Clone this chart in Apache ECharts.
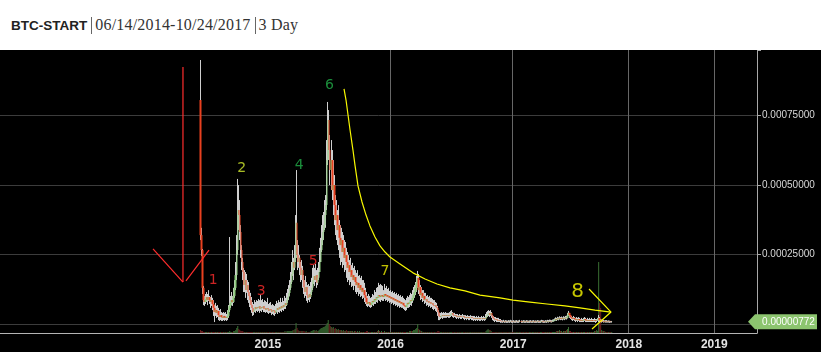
<!DOCTYPE html>
<html>
<head>
<meta charset="utf-8">
<script src="https://cdn.jsdelivr.net/npm/echarts@6/dist/echarts.min.js"></script>
<style>
  html, body { margin: 0; padding: 0; background: #fff; }
  #head { position: absolute; left: 11px; top: 15px; height: 20px; line-height: 20px; white-space: nowrap; color: #222; }
  #head b { font: bold 13.5px "Liberation Sans", Arial, sans-serif; }
  #head .serif { font: 16px "Liberation Serif", "DejaVu Serif", serif; color: #333; letter-spacing: 0.2px; }
  #head .sep { display: inline-block; width: 1px; height: 17px; background: #666; vertical-align: -4px; margin: 0 3px 0 4px; }
  #chart { position: absolute; left: 0; top: 50px; width: 821px; height: 302px; }
</style>
</head>
<body>
<div id="head"><b>BTC-START</b><span class="sep"></span><span class="serif">06/14/2014-10/24/2017</span><span class="sep"></span><span class="serif">3 Day</span></div>
<div id="chart"></div>
<script>
// prices in µBTC (1 = 0.000001 BTC), one candle every 3 days from 06/14/2014
var firstDay = Date.UTC(2014, 5, 14);
var barDays = 3;
var padBefore = 199;      // empty bars left of the first candle
var padAfter = 144;       // empty future bars
var futureStepDays = 4.3;
var yearLabels = ['2015', '2016', '2017', '2018', '2019'];
var yTicks = [250, 500, 750];
var lastPrice = 7.72;
var open0 = 806;

var closes = [
  320,266,130,86,79,90,97,86,97,86,
  79,86,72,58,43,50,40,47,32,25,
  32,25,22,29,22,25,22,29,50,65,
  76,86,79,101,130,176,266,410,392,331,
  266,223,187,140,158,122,140,115,101,86,
  68,58,43,50,61,54,61,58,65,54,
  61,58,65,54,58,50,58,54,47,54,
  50,43,50,47,40,50,58,50,61,54,
  65,58,68,61,76,68,86,97,112,130,
  151,180,223,202,238,364,248,223,238,202,
  176,194,158,133,115,133,104,94,108,97,
  115,130,158,173,158,176,148,166,187,223,
  266,302,331,356,392,428,590,734,626,554,
  590,482,500,428,374,392,338,356,310,284,
  302,259,274,238,248,223,202,212,187,194,
  169,176,158,169,151,140,148,130,140,122,
  130,115,122,104,94,79,72,79,76,68,
  76,83,79,90,86,97,94,104,101,97,
  104,101,97,108,101,104,97,101,94,97,
  90,94,86,90,83,86,79,83,76,79,
  72,76,68,65,61,68,76,72,79,86,
  83,94,104,115,130,148,166,122,133,104,
  112,94,101,86,90,79,83,76,79,72,
  76,68,65,68,61,58,43,29,25,29,
  32,29,32,29,32,29,32,29,32,36,
  40,32,29,32,29,25,29,25,29,25,
  25,29,25,22,25,22,25,22,22,25,
  22,22,18,22,18,22,18,22,18,18,
  22,18,22,18,25,32,36,40,32,40,
  29,22,18,14,18,14,11,14,11,11,
  9,8,10,7,9,8,7,9,8,10,
  8,7,9,7,8,9,7,8,10,8,
  7,9,8,7,9,8,7,8,9,7,
  8,9,7,8,7,9,8,7,8,10,
  9,8,7,9,8,10,9,11,10,9,
  11,12,14,18,16,20,18,22,19,21,
  18,22,20,23,22,29,40,32,25,22,
  18,22,18,14,18,14,18,14,11,14,
  11,14,18,14,11,14,11,14,11,14,
  11,11,14,11,11,14,22,14,11,11,
  9,11,8,10,9,8,9,8,7,7.72
];

var highs = [
  950,346,270,137,101,108,115,108,122,101,
  97,104,94,86,68,76,65,68,58,50,
  54,43,40,43,40,43,36,50,68,313,
  101,115,101,130,158,223,320,522,500,446,
  356,284,238,202,194,187,180,158,151,122,
  112,97,79,72,86,79,86,83,90,86,
  104,86,90,79,86,83,79,94,72,76,
  79,68,72,68,65,72,83,76,86,79,
  94,79,94,83,101,94,112,126,140,158,
  187,223,266,238,284,392,554,302,284,248,
  223,230,209,176,158,173,151,140,144,137,
  151,166,202,212,202,216,194,202,223,274,
  310,356,392,403,446,464,662,799,770,680,
  662,626,590,536,464,446,410,428,374,356,
  346,331,320,302,295,274,259,248,230,238,
  212,220,202,209,194,184,194,173,176,166,
  173,158,158,148,130,115,101,108,101,94,
  97,108,104,122,115,130,133,148,140,144,
  140,137,122,144,130,137,126,130,119,122,
  115,119,112,115,108,112,104,108,101,104,
  97,101,94,90,86,94,101,97,104,112,
  108,122,133,140,151,173,191,180,158,140,
  133,122,122,112,112,101,104,97,101,94,
  94,90,86,86,79,76,65,50,40,40,
  43,40,43,40,43,40,40,40,43,47,
  50,43,40,40,36,36,36,32,36,32,
  32,36,32,32,32,29,32,29,29,32,
  29,29,29,29,25,29,25,29,25,25,
  29,25,29,25,36,43,47,50,47,50,
  43,32,29,25,25,22,22,22,18,18,
  14,13,15,12,14,13,12,14,13,15,
  13,12,14,12,13,14,12,13,15,13,
  12,14,13,12,14,13,12,13,14,12,
  13,14,12,13,12,14,13,12,13,15,
  14,13,12,14,13,15,14,16,15,14,
  16,17,20,24,22,26,24,28,25,27,
  24,28,26,29,30,40,47,40,32,29,
  25,29,25,22,25,22,25,22,18,22,
  18,22,25,22,18,22,18,22,18,22,
  18,18,22,18,18,22,32,25,18,16,
  14,15,13,14,14,12,13,12,11,11
];

var lows = [
  302,245,108,68,65,72,79,68,83,72,
  58,65,50,29,7,29,22,25,14,11,
  14,11,11,14,11,14,11,14,22,43,
  58,68,65,76,94,122,158,248,338,302,
  238,194,158,115,115,94,112,86,76,61,
  50,40,29,32,43,40,47,43,47,40,
  47,43,50,43,43,40,43,40,36,40,
  40,32,36,32,29,36,43,36,43,40,
  47,43,50,47,54,54,65,76,86,101,
  122,144,173,158,194,223,238,194,202,176,
  151,158,130,108,94,101,83,76,86,79,
  90,104,122,144,137,151,130,140,158,187,
  223,259,284,302,338,346,410,572,590,500,
  482,446,392,356,320,302,284,266,238,212,
  223,202,212,187,194,166,151,158,140,151,
  133,137,122,137,115,108,115,101,108,97,
  101,90,94,79,72,65,61,65,61,58,
  61,68,65,72,72,79,76,86,83,79,
  86,83,83,90,83,86,79,83,76,79,
  72,76,68,72,65,68,61,65,58,61,
  58,58,54,50,47,50,58,58,61,68,
  65,76,86,94,104,115,130,108,101,86,
  90,79,83,72,76,65,68,61,65,58,
  61,54,50,54,47,43,29,14,14,18,
  22,18,22,22,22,22,25,22,22,25,
  29,25,22,25,22,18,22,18,22,18,
  18,22,18,14,18,14,18,14,14,18,
  14,14,11,14,11,14,11,14,11,11,
  14,11,14,11,14,22,25,29,25,29,
  22,14,11,7,11,7,7,7,7,4,
  5,4,6,4,5,4,4,5,4,6,
  4,4,5,4,4,5,4,4,6,4,
  4,5,4,4,5,4,4,4,5,4,
  4,5,4,4,4,5,4,4,4,6,
  5,4,4,5,4,6,5,7,6,5,
  7,8,10,12,11,14,13,16,14,15,
  13,16,14,17,16,20,29,22,18,14,
  11,14,11,7,11,7,11,7,7,7,
  7,7,11,7,7,7,7,7,7,7,
  7,7,7,4,7,11,7,4,7,5,
  7,5,6,5,5,5,5,4,5,5
];

var volumes = [
  3,2,2,1,1,1,1,1,1,1, 1,1,1,1,1,1,1,1,1,1,
  1,1,1,1,1,1,1,1,1,2, 1,1,1,2,2,3,5,7,4,3,
  2,2,2,1,1,1,1,1,1,1, 1,1,1,1,1,1,1,1,1,1,
  1,1,1,1,1,1,1,1,1,1, 1,1,1,1,1,1,1,1,1,1,
  1,1,1,1,2,1,2,2,2,2, 2,2,3,3,4,10,5,3,2,2,
  2,2,2,2,1,2,1,1,1,1, 2,2,3,3,2,3,2,2,3,4,
  5,5,6,6,7,8,10,13,9,7, 6,5,6,4,5,4,3,4,3,3,
  3,2,3,2,2,3,2,2,2,2, 2,2,1,2,2,1,2,1,2,1,
  1,1,1,1,1,2,2,1,1,1, 1,1,1,1,1,1,2,3,2,1,
  2,1,1,2,1,1,1,1,1,1, 1,1,1,1,1,1,1,1,1,1,
  1,1,1,1,1,1,1,1,2,2, 2,2,3,3,4,5,9,4,3,2,
  2,1,1,1,1,1,1,1,1,1, 1,1,1,1,1,1,2,2,1,1,
  1,1,1,1,1,1,1,1,1,1, 1,1,1,1,1,1,1,1,1,1,
  1,1,1,1,1,1,1,1,1,1, 1,1,1,1,1,1,1,1,1,1,
  1,1,1,1,2,3,4,3,3,2, 1,1,1,1,1,1,1,1,1,1,
  1,1,1,1,1,1,1,1,1,1, 1,1,1,1,1,1,1,1,1,1,
  1,1,1,1,1,1,1,1,1,1, 1,1,1,1,1,1,1,1,1,1,
  1,1,1,1,1,1,1,1,1,1, 1,1,1,1,2,2,2,3,2,2,
  1,2,2,2,3,4,6,2,2,1, 1,1,1,1,1,1,1,1,1,1,
  1,1,1,1,1,1,1,1,1,1, 1,1,2,2,3,2,71,30,25,3,
  2,2,2,1,1,1,1,1,1,1
];

// hand drawn notes, in (bar number, price) units
var noteText  = ['1', '2', '3', '4', '5', '6', '7', '8'];
var noteBar   = [211.7, 239.9, 259.4, 297.2, 311.1, 327.1, 382.5, 574.1];
var notePrice = [156, 559, 119, 570, 224, 857, 188, 116];

var redStemBar = [181.5, 181.5], redStemPrice = [925, 151];
var redLeftBar = [151.7, 181.5], redLeftPrice = [270, 151];
var redRightBar = [184.5, 207.4], redRightPrice = [155, 266];

var curveBar = [341.7,343.7,345.7,347.7,350.6,352.6,355.6,359.6,363.6,367.5,372.5,377.5,382.5,387.4,397.4,410.3,422.3,434.2,447.1,462.0,477.0,496.9,509.8,526.7,543.6,561.5,576.4,591.4,607.3];
var curvePrice = [846,806,752,698,626,572,497,439,392,353,313,281,259,241,216,184,162,144,130,119,104,94,86,79,72,65,58,50,43];
var headBar = [585.4, 607.3, 588.4];
var headPrice = [126, 43, -18];

var noteColor = ['#ff2d2d', '#d2ea2e', '#ff2d2d', '#22b04a', '#ff2d2d', '#22b04a', '#f0f000', '#f8f800'];
var noteSize = [14, 14, 14, 14, 14, 14, 14, 20];

var DAY = 86400000;
var cats = [];
for (var k = padBefore; k > 0; k--) cats.push(new Date(firstDay - k * barDays * DAY));
for (var i = 0; i < closes.length; i++) cats.push(new Date(firstDay + i * barDays * DAY));
var lastDay = firstDay + (closes.length - 1) * barDays * DAY;
for (var k = 1; k <= padAfter; k++) cats.push(new Date(lastDay + k * futureStepDays * DAY));

var catNames = cats.map(function(d) { return d.toISOString().slice(0, 10); });
var yearMark = cats.map(function(d, i) {
  if (i == 0) return false;
  var y = d.getUTCFullYear();
  return y != cats[i - 1].getUTCFullYear() && yearLabels.indexOf(String(y)) >= 0;
});
function isYear(index) { return yearMark[index]; }

function btc(v) { return (v / 1e6).toFixed(8); }
function pairs(xs, ys) { return xs.map(function(x, i) { return [x, ys[i]]; }); }

var upColor = '#8ccb7c', downColor = '#e8401f', wickColor = '#cfcfcf';
var wickRows = [], bodyRows = [], volRows = [];
for (var i = 0; i < closes.length; i++) {
  var o = i ? closes[i - 1] : open0;
  var c = closes[i];
  wickRows.push([padBefore + i, o, c, lows[i], highs[i]]);
  bodyRows.push([padBefore + i, o, c, Math.min(o, c), Math.max(o, c)]);
  volRows.push({ value: [padBefore + i, volumes[i]], itemStyle: { color: c >= o ? '#3a6e33' : '#6e2020' } });
}

var notes = noteText.map(function(t, i) {
  return {
    value: [noteBar[i], notePrice[i]],
    label: { formatter: t, color: noteColor[i], fontSize: noteSize[i] }
  };
});

function annoLine(xs, ys, color) {
  return {
    type: 'line', xAxisIndex: 2, yAxisIndex: 0, data: pairs(xs, ys),
    symbol: 'none', clip: false, silent: true, z: 5,
    lineStyle: { color: color, width: 1.2 }
  };
}

var hidden = {
  axisLine: { show: false, onZero: false }, axisTick: { show: false },
  axisLabel: { show: false }, splitLine: { show: false }
};

var chart = echarts.init(document.getElementById('chart'));
chart.setOption({
  backgroundColor: '#000',
  animation: false,
  textStyle: { fontFamily: '"Liberation Sans", Arial, sans-serif' },
  grid: [
    { show: false, borderWidth: 0, left: 0, right: 64, top: 0, bottom: 28 },
    { show: false, borderWidth: 0, left: 0, right: 64, top: 0, bottom: 19 }
  ],
  xAxis: [
    Object.assign({ type: 'category', gridIndex: 0, data: catNames, position: 'bottom' }, hidden),
    {
      type: 'category', gridIndex: 1, data: catNames, position: 'bottom',
      axisLine: { onZero: false, lineStyle: { color: '#b4b4b4' } },
      axisTick: { interval: isYear, length: 4, lineStyle: { color: '#777' } },
      axisLabel: {
        interval: isYear, color: '#e4e4e4', fontSize: 12, fontWeight: 'bold', margin: 6,
        formatter: function(v) { return v.slice(0, 4); }
      },
      splitLine: { show: true, interval: isYear, showMinLine: false, showMaxLine: false, lineStyle: { color: '#676767' } }
    },
    Object.assign({ type: 'value', gridIndex: 0, min: -0.5, max: catNames.length - 0.5, position: 'bottom' }, hidden)
  ],
  yAxis: [
    {
      type: 'value', gridIndex: 0, position: 'right', min: 0, max: 986, interval: 250,
      axisLine: { show: true, onZero: false, lineStyle: { color: '#a8a8a8' } },
      axisTick: { show: true, length: 4, lineStyle: { color: '#a8a8a8' } },
      axisLabel: {
        color: '#d8d8d8', fontSize: 10, margin: 5,
        formatter: function(v) { return yTicks.indexOf(v) >= 0 ? btc(v) : ''; }
      },
      splitLine: { showMaxLine: false, lineStyle: { color: '#3c3c3c' } }
    },
    {
      type: 'value', gridIndex: 1, position: 'right', min: 0, max: 283,
      axisLine: { show: true, onZero: false, lineStyle: { color: '#a8a8a8' } },
      axisTick: { show: false }, axisLabel: { show: false }, splitLine: { show: false }
    }
  ],
  series: [
    {
      type: 'bar', xAxisIndex: 1, yAxisIndex: 1, data: volRows, barWidth: 1, z: 1, silent: true
    },
    {
      type: 'candlestick', xAxisIndex: 0, yAxisIndex: 0, data: wickRows,
      encode: { x: 0, y: [1, 2, 3, 4] }, barWidth: 0.1, z: 2, silent: true,
      itemStyle: { color: wickColor, color0: wickColor, borderColor: wickColor, borderColor0: wickColor, borderWidth: 1 }
    },
    {
      type: 'candlestick', xAxisIndex: 0, yAxisIndex: 0, data: bodyRows,
      encode: { x: 0, y: [1, 2, 3, 4] }, barWidth: 2, z: 3, silent: true,
      itemStyle: { color: upColor, color0: downColor, borderColor: upColor, borderColor0: downColor, borderWidth: 0 }
    },
    annoLine(redStemBar, redStemPrice, '#ff2d2d'),
    annoLine(redLeftBar, redLeftPrice, '#ff2d2d'),
    annoLine(redRightBar, redRightPrice, '#ff2d2d'),
    annoLine(curveBar, curvePrice, '#f8f800'),
    annoLine(headBar, headPrice, '#f8f800'),
    {
      type: 'scatter', xAxisIndex: 2, yAxisIndex: 0, data: notes, symbolSize: 1, clip: false, silent: true, z: 6,
      itemStyle: { color: 'rgba(0,0,0,0)' },
      label: { show: true, position: 'inside', fontFamily: '"DejaVu Sans", sans-serif' }
    },
    {
      type: 'scatter', xAxisIndex: 2, yAxisIndex: 0, clip: false, silent: true, z: 7,
      data: [[catNames.length - 0.5, lastPrice]],
      symbol: 'path://M0,7.5L7,0L69,0L69,15L7,15Z', symbolSize: [69, 15], symbolOffset: [25.5, 0],
      itemStyle: { color: '#8cc46f', opacity: 1 },
      label: {
        show: true, position: 'inside', offset: [6, 0], color: '#fff', fontSize: 10,
        formatter: function() { return btc(lastPrice); }
      }
    }
  ]
});
</script>
</body>
</html>
